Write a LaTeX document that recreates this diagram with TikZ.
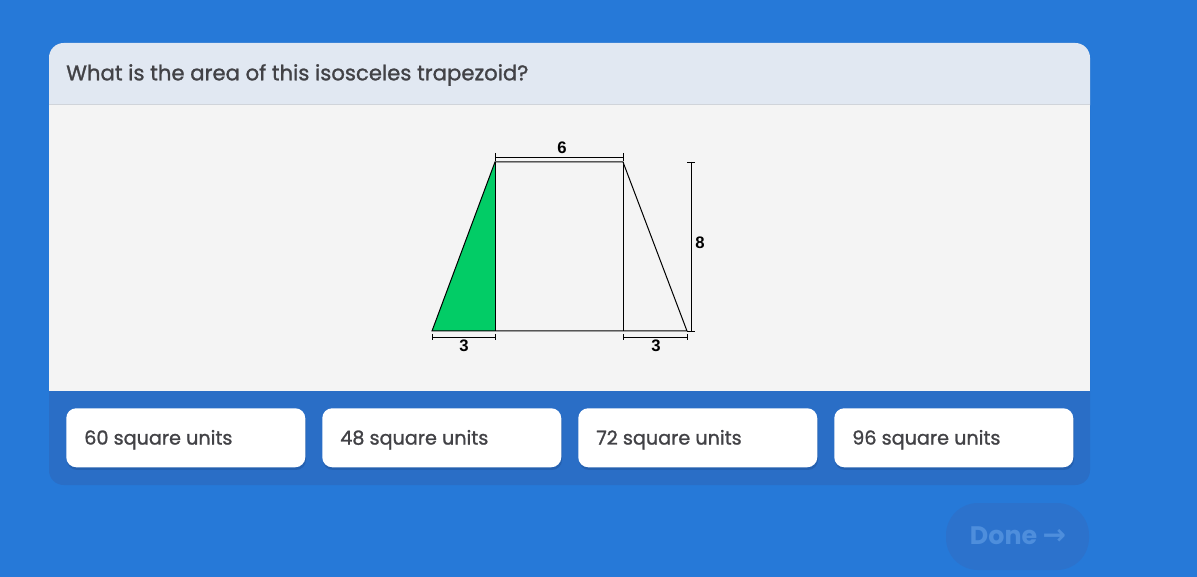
\documentclass[tikz,border=0pt]{standalone}
\usepackage{fontspec}
\setmainfont{Poppins}
\newfontfamily\popm{Poppins}[FakeBold=1.2]
\newfontfamily\arialf{Liberation Sans}
\newfontfamily\dejavu{DejaVu Sans}
\definecolor{bgblue}{RGB}{38,121,216}
\definecolor{secblue}{RGB}{42,110,198}
\definecolor{headgray}{RGB}{225,232,242}
\definecolor{bodygray}{RGB}{244,244,244}
\definecolor{sepgray}{RGB}{208,212,218}
\definecolor{txtgray}{RGB}{66,66,70}
\definecolor{trigreen}{RGB}{2,204,102}
\definecolor{donebg}{RGB}{44,114,204}
\definecolor{donetxt}{RGB}{78,142,220}
\definecolor{shadowblue}{RGB}{30,80,150}
\tikzset{
  answer/.style={fill=white, rounded corners=7.5pt, minimum width=179.25pt, minimum height=44.25pt, inner sep=0pt},
  anstext/.style={anchor=west, text=txtgray, inner sep=0pt, font=\popm\fontsize{14.4}{17}\selectfont},
  dim/.style={line width=0.7pt, black},
  dimlabel/.style={font=\arialf\bfseries\fontsize{12.5}{14}\selectfont, inner sep=1pt},
  edge/.style={line width=0.75pt, black}
}
\begin{document}
\begin{tikzpicture}[x=0.75pt,y=-0.75pt]
\useasboundingbox (0,0) rectangle (1197,577);
\fill[bgblue] (0,0) rectangle (1197,577);
% card
\fill[secblue, rounded corners=11pt] (49,43) rectangle (1090,485);
\fill[headgray, rounded corners=11pt] (49,43) rectangle (1090,120);
\fill[headgray] (49,90) rectangle (1090,104);
\fill[bodygray] (49,105) rectangle (1090,391);
\draw[sepgray, line width=0.9pt] (49,104.5) -- (1090,104.5);
\node[anchor=west, text=txtgray, font=\popm\fontsize{15.9}{19}\selectfont, inner sep=0pt] (q) at (66,75) {What is the area of this isosceles trapezoid?};
% trapezoid
\coordinate (BL) at (432,331);
\coordinate (TL) at (495,162);
\coordinate (TR) at (623,162);
\coordinate (BR) at (687,331);
\coordinate (FL) at (495,331);
\coordinate (FR) at (623,331);
\fill[trigreen] (BL) -- (TL) -- (FL) -- cycle;
\draw[edge] (BL) -- (TL) -- (TR) -- (BR) -- cycle;
\draw[edge] (TL) -- (FL);
\draw[edge] (TR) -- (FR);
% dimensions
\coordinate (d6a) at (495,157); \coordinate (d6b) at (623,157);
\draw[dim] (d6a) -- (d6b);
\draw[dim] (495,153) -- (495,161); \draw[dim] (623,153) -- (623,161);
\node[dimlabel] (l6) at (562,148) {6};
\coordinate (d8a) at (691,162); \coordinate (d8b) at (691,331);
\draw[dim] (d8a) -- (d8b);
\draw[dim] (687,162) -- (695,162); \draw[dim] (687,331) -- (695,331);
\node[dimlabel] (l8) at (700,243) {8};
\coordinate (d3a) at (432,337); \coordinate (d3b) at (495,337);
\draw[dim] (d3a) -- (d3b);
\draw[dim] (432,334) -- (432,340); \draw[dim] (495,334) -- (495,340);
\node[dimlabel] (l3a) at (464,346) {3};
\coordinate (d3c) at (623,337); \coordinate (d3d) at (687,337);
\draw[dim] (d3c) -- (d3d);
\draw[dim] (623,334) -- (623,340); \draw[dim] (687,334) -- (687,340);
\node[dimlabel] (l3b) at (656,346) {3};
% answers
\foreach \x/\t/\n in {66/60/a1, 322/48/a2, 578/72/a3, 834/96/a4}{
  \fill[shadowblue, opacity=0.45, rounded corners=7.5pt] (\x+1,411) rectangle (\x+240,470);
  \node[answer, anchor=north west] (\n) at (\x,408) {};
  \node[anstext] at ([xshift=13.5pt, yshift=-1.5pt]\n.west) {\t\ square units};
}
% done button
\node[fill=donebg, rounded corners=24pt, minimum width=107.25pt, minimum height=50.25pt, inner sep=0pt] (done) at (1017.5,536.5) {};
\node[text=donetxt, font=\bfseries\fontsize{19}{22}\selectfont, inner sep=0pt] (donet) at (1018,536) {Done {\dejavu\bfseries\fontsize{21}{22}\selectfont →}};
\end{tikzpicture}
\end{document}
